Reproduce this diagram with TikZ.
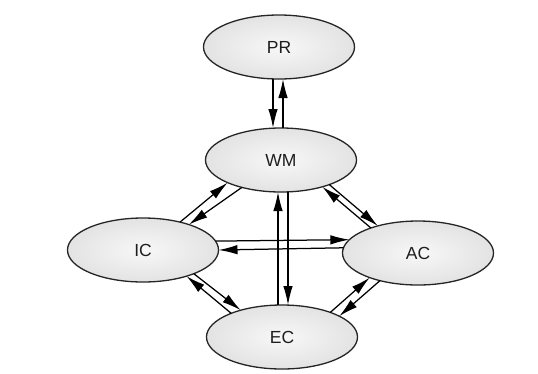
\documentclass[tikz,border=0pt]{standalone}
\usepackage{fontspec}
\setmainfont{Liberation Sans}
\usetikzlibrary{arrows.meta,shapes.geometric}
\definecolor{edgegray}{HTML}{252525}
\definecolor{textgray}{HTML}{1E1E1E}
\tikzset{
  state/.style={ellipse, draw=edgegray, line width=1.3pt,
    inner color=gray!6, outer color=gray!22,
    minimum width=151pt, minimum height=64pt, inner sep=0pt, outer sep=0pt,
    text=textgray, font=\fontsize{17.5}{19}\selectfont},
  link/.style={draw=black, line width=1.25pt, -{Latex[length=19pt,width=9.5pt]}}
}
\begin{document}
\begin{tikzpicture}[x=1pt,y=-1pt]
\useasboundingbox[fill=white] (0,0) rectangle (538,373);
\node[state] (PR) at (279,47) {PR};
\node[state] (WM) at (281,160) {WM};
\node[state] (IC) at (143,250) {IC};
\node[state] (AC) at (418,253) {AC};
\node[state] (EC) at (282,337) {EC};
% PR - WM
\draw[link] ([xshift=-6pt]PR.south) -- ([xshift=-8pt]WM.north);
\draw[link] ([xshift=2pt]WM.north) -- ([xshift=4pt]PR.south);
% WM - EC
\draw[link] ([xshift=-4pt]EC.north) -- ([xshift=-3pt]WM.south);
\draw[link] ([xshift=7pt]WM.south) -- ([xshift=6pt]EC.north);
% IC - AC
\draw[link] (IC.7.9) -- (AC.169.3);
\draw[link] (AC.176.9) -- (IC.0.8);
% WM - IC
\draw[link] (IC.37.6) -- (WM.203.1);
\draw[link] (WM.215.7) -- (IC.29.3);
% WM - AC
\draw[link] (AC.152.9) -- (WM.327.7);
\draw[link] (WM.333.8) -- (AC.146);
% IC - EC
\draw[link] (EC.155.1) -- (IC.329.5);
\draw[link] (IC.335.7) -- (EC.147.5);
% EC - AC
\draw[link] (EC.27.4) -- (AC.207.5);
\draw[link] (AC.216.8) -- (EC.20.2);
\end{tikzpicture}
\end{document}
